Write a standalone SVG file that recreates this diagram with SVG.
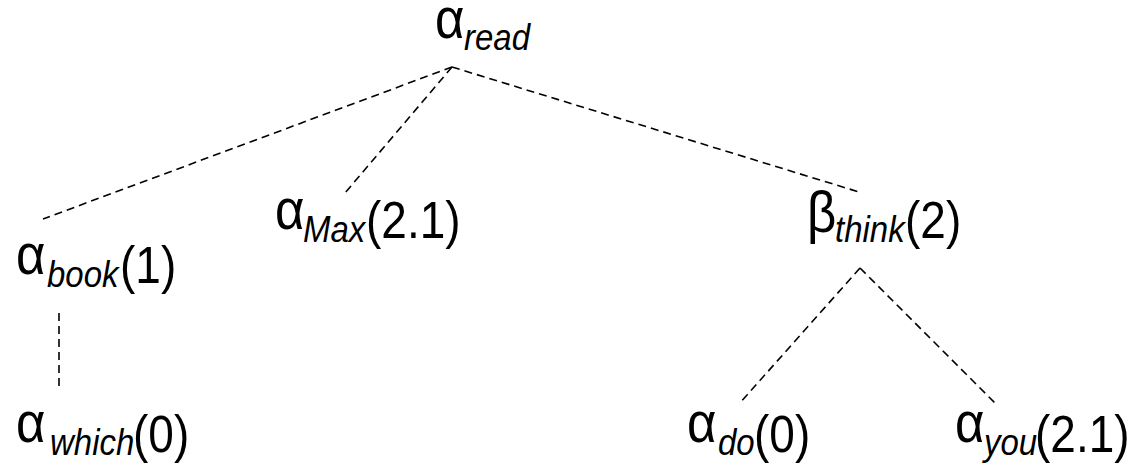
<svg xmlns="http://www.w3.org/2000/svg" width="1137" height="464" viewBox="0 0 1137 464">
<style>
text{font-family:"Liberation Sans",Arial,sans-serif;fill:#000}
.m{font-size:46px}
.g{font-size:51px}
.s{font-size:33px;font-style:italic}
.e{stroke:#000;stroke-width:1.6;stroke-dasharray:8,5;fill:none}
</style>
<rect width="1137" height="464" fill="#fff"/>
<g id="connectors">
<line class="e" x1="452" y1="67" x2="43" y2="219"/>
<line class="e" x1="452" y1="67" x2="345" y2="193"/>
<line class="e" x1="452" y1="67" x2="859" y2="192"/>
<line class="e" x1="59" y1="313" x2="59" y2="390"/>
<line class="e" x1="860" y1="268" x2="739" y2="404"/>
<line class="e" x1="860" y1="268" x2="996" y2="404"/>
</g>
<g id="n-read" transform="translate(0,38) scale(1,1.12)"><text class="g" x="435" y="0">α</text><text class="s" x="464" y="10.5">read</text></g>
<g id="n-book" transform="translate(0,283) scale(1,1.12)"><text class="g" x="16" y="-8">α</text><text class="s" x="47" y="4">book</text><text class="m" x="120" y="0">(1)</text></g>
<g id="n-max" transform="translate(0,238) scale(1,1.12)"><text class="g" x="275" y="-8">α</text><text class="s" x="303" y="4">Max</text><text class="m" x="366" y="0">(2.1)</text></g>
<g id="n-think" transform="translate(0,238) scale(1,1.12)"><text class="g" x="807" y="-5">β</text><text class="s" x="835" y="4">think</text><text class="m" x="905" y="0">(2)</text></g>
<g id="n-which" transform="translate(0,452) scale(1,1.12)"><text class="g" x="16" y="-9">α</text><text class="s" x="50" y="3">which</text><text class="m" x="133" y="0">(0)</text></g>
<g id="n-do" transform="translate(0,452) scale(1,1.12)"><text class="g" x="687" y="-9">α</text><text class="s" x="718" y="3">do</text><text class="m" x="754" y="0">(0)</text></g>
<g id="n-you" transform="translate(0,452) scale(1,1.12)"><text class="g" x="955" y="-9">α</text><text class="s" x="984" y="3">you</text><text class="m" x="1035" y="0">(2.1)</text></g>
</svg>
